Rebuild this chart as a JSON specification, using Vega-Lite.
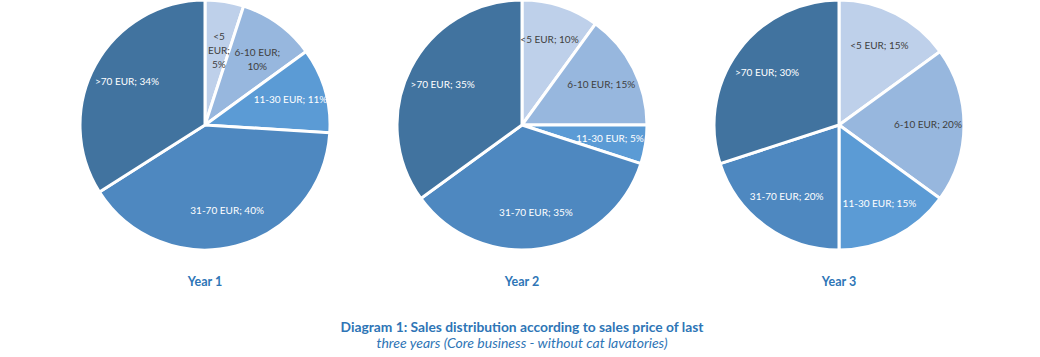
{
  "$schema": "https://vega.github.io/schema/vega-lite/v6.json",
  "background": "white",
  "padding": {"left": 74, "top": -6, "right": 5, "bottom": 5},
  "bounds": "flush",
  "data": {"values": [
    {"year": "Year 1", "band": "<5 EUR", "ord": 1, "share": 5, "label": "<5\nEUR;\n5%"},
    {"year": "Year 1", "band": "6-10 EUR", "ord": 2, "share": 10, "label": "6-10 EUR;\n10%"},
    {"year": "Year 1", "band": "11-30 EUR", "ord": 3, "share": 11, "label": "11-30 EUR; 11%"},
    {"year": "Year 1", "band": "31-70 EUR", "ord": 4, "share": 40, "label": "31-70 EUR; 40%"},
    {"year": "Year 1", "band": ">70 EUR", "ord": 5, "share": 34, "label": ">70 EUR; 34%"},
    {"year": "Year 2", "band": "<5 EUR", "ord": 1, "share": 10, "label": "<5 EUR; 10%"},
    {"year": "Year 2", "band": "6-10 EUR", "ord": 2, "share": 15, "label": "6-10 EUR; 15%"},
    {"year": "Year 2", "band": "11-30 EUR", "ord": 3, "share": 5, "label": "11-30 EUR; 5%"},
    {"year": "Year 2", "band": "31-70 EUR", "ord": 4, "share": 35, "label": "31-70 EUR; 35%"},
    {"year": "Year 2", "band": ">70 EUR", "ord": 5, "share": 35, "label": ">70 EUR; 35%"},
    {"year": "Year 3", "band": "<5 EUR", "ord": 1, "share": 15, "label": "<5 EUR; 15%"},
    {"year": "Year 3", "band": "6-10 EUR", "ord": 2, "share": 20, "label": "6-10 EUR; 20%"},
    {"year": "Year 3", "band": "11-30 EUR", "ord": 3, "share": 15, "label": "11-30 EUR; 15%"},
    {"year": "Year 3", "band": "31-70 EUR", "ord": 4, "share": 20, "label": "31-70 EUR; 20%"},
    {"year": "Year 3", "band": ">70 EUR", "ord": 5, "share": 30, "label": ">70 EUR; 30%"}
  ]},
  "facet": {
    "column": {
      "field": "year", "type": "nominal", "title": null,
      "header": {"labelOrient": "bottom", "labelFont": "Lato", "labelFontWeight": "bold", "labelFontSize": 12.5, "labelColor": "#2E75B6", "labelPadding": 26}
    }
  },
  "spacing": {"column": 67},
  "resolve": {"scale": {"theta": "independent"}},
  "spec": {
    "width": 250,
    "height": 250,
    "encoding": {
      "theta": {"field": "share", "type": "quantitative", "stack": true},
      "order": {"field": "ord", "type": "quantitative"}
    },
    "layer": [
      {
        "mark": {"type": "arc", "outerRadius": 125, "stroke": "white", "strokeWidth": 3},
        "encoding": {
          "color": {"field": "band", "type": "nominal", "legend": null,
            "scale": {"domain": ["<5 EUR", "6-10 EUR", "11-30 EUR", "31-70 EUR", ">70 EUR"],
                      "range": ["#BED0EA", "#97B7DE", "#5B9BD5", "#4E88C0", "#41739F"]}}
        }
      },
      {
        "mark": {"type": "text", "radius": 89, "font": "Lato", "fontSize": 10, "lineBreak": "\n", "lineHeight": 14},
        "encoding": {
          "text": {"field": "label"},
          "color": {"condition": {"test": "datum.band === '<5 EUR' || datum.band === '6-10 EUR'", "value": "#404040"}, "value": "white"}
        }
      }
    ]
  },
  "title": {
    "text": "Diagram 1: Sales distribution according to sales price of last",
    "subtitle": "three years (Core business - without cat lavatories)",
    "orient": "bottom",
    "anchor": "middle",
    "offset": 32,
    "font": "Lato",
    "fontSize": 13.8,
    "fontWeight": "bold",
    "color": "#2E75B6",
    "subtitleFont": "Lato",
    "subtitleFontSize": 14,
    "subtitleFontStyle": "italic",
    "subtitleColor": "#2E75B6",
    "subtitlePadding": 3
  },
  "config": {"view": {"stroke": null}}
}
